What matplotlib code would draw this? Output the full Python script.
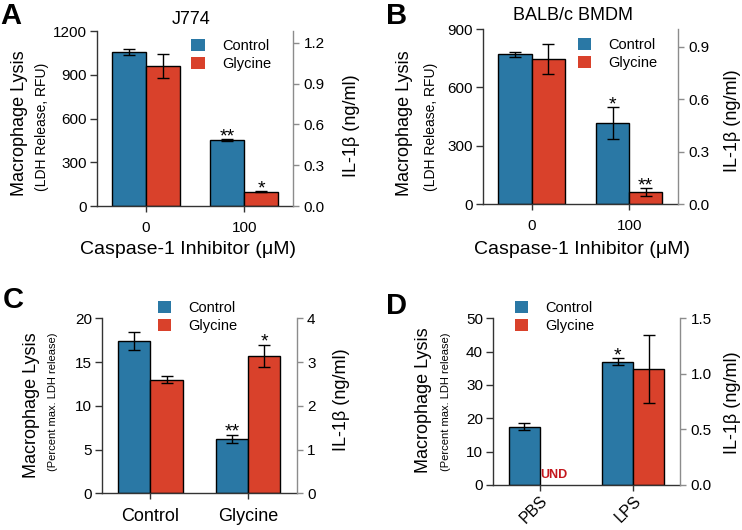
import matplotlib
matplotlib.use('Agg')
import matplotlib.pyplot as plt
from matplotlib.patches import Patch
import numpy as np

plt.rcParams['font.family'] = ['Liberation Sans', 'DejaVu Sans']

W, H = 742, 530
fig = plt.figure(figsize=(7.42, 5.30), dpi=100)

BLUE = '#2a78a5'
RED = '#d9412b'
RGRAY = '#8c8c8c'

# ---------------- data ----------------
series_names = ['Control', 'Glycine']

a_groups = ['0', '100']
a_control = [1055, 453]
a_control_err = [22, 5]
a_glycine = [960, 98]
a_glycine_err = [80, 4]
a_stars_control = ['', '**']
a_stars_glycine = ['', '*']

b_groups = ['0', '100']
b_control = [770, 415]
b_control_err = [13, 82]
b_glycine = [745, 60]
b_glycine_err = [76, 21]
b_stars_control = ['', '*']
b_stars_glycine = ['', '**']

c_groups = ['Control', 'Glycine']
c_control = [17.4, 6.2]
c_control_err = [1.05, 0.5]
c_glycine = [13.0, 15.7]
c_glycine_err = [0.42, 1.3]
c_stars_control = ['', '**']
c_stars_glycine = ['', '*']

d_groups = ['PBS', 'LPS']
d_control = [17.5, 37.0]
d_control_err = [1.0, 1.1]
d_glycine = [np.nan, 34.8]
d_glycine_err = [np.nan, 10.3]
d_stars_control = ['', '*']
d_stars_glycine = ['', '']


def px_axes(x0, y0, x1, y1):
    return fig.add_axes([x0 / W, 1 - y1 / H, (x1 - x0) / W, (y1 - y0) / H])


def panel(rect, groups, ctrl, ctrl_err, gly, gly_err, stars_c, stars_g,
          ylim, yticks, rlim, rticks, rlabels, width, legend_xy,
          xtick_size=11, rotate=False):
    ax = px_axes(*rect)
    x = np.arange(len(groups))
    ek = dict(ecolor='black', elinewidth=1.0, capsize=4.5, capthick=1.0)
    ax.bar(x - width / 2, ctrl, width, color=BLUE, edgecolor='black',
           linewidth=1.0, yerr=ctrl_err, error_kw=ek, zorder=2)
    ax.bar(x + width / 2, gly, width, color=RED, edgecolor='black',
           linewidth=1.0, yerr=gly_err, error_kw=ek, zorder=2)
    for xi, v, e, s in zip(x - width / 2, ctrl, ctrl_err, stars_c):
        if s:
            ax.annotate(s, (xi, v + e), xytext=(0, -1.5), textcoords='offset points',
                        ha='center', va='baseline', fontsize=14)
    for xi, v, e, s in zip(x + width / 2, gly, gly_err, stars_g):
        if s:
            ax.annotate(s, (xi, v + e), xytext=(0, -1.5), textcoords='offset points',
                        ha='center', va='baseline', fontsize=14)
    ax.set_xlim(-0.5, 1.5)
    ax.set_ylim(*ylim)
    ax.set_yticks(yticks)
    ax.set_xticks(x)
    if rotate:
        ax.set_xticklabels(groups, rotation=45, ha='right', va='top',
                           rotation_mode='anchor', fontsize=xtick_size)
        ax.tick_params(axis='x', length=4.5, width=1, color='#333333', pad=1)
    else:
        ax.set_xticklabels(groups, fontsize=xtick_size)
        ax.tick_params(axis='x', length=4.5, width=1, color='#333333', pad=6)
    ax.tick_params(axis='y', labelsize=11, length=5, width=1, color='#333333', pad=2)
    for sp in ['top', 'right']:
        ax.spines[sp].set_visible(False)
    for sp in ['left', 'bottom']:
        ax.spines[sp].set_color('#333333')
        ax.spines[sp].set_linewidth(1.0)
    ax.patch.set_alpha(0)

    ax2 = ax.twinx()
    ax2.set_ylim(*rlim)
    ax2.set_yticks(rticks)
    ax2.set_yticklabels(rlabels)
    ax2.tick_params(axis='y', labelsize=11, length=4.5, width=1, color=RGRAY, pad=3)
    for sp in ['top', 'left', 'bottom']:
        ax2.spines[sp].set_visible(False)
    ax2.spines['right'].set_color(RGRAY)
    ax2.spines['right'].set_linewidth(1.0)
    ax2.spines['right'].set_bounds(rlim[0], rlim[1])

    handles = [Patch(facecolor=BLUE, edgecolor='none'),
               Patch(facecolor=RED, edgecolor='none')]
    ax.legend(handles, series_names, loc='upper left',
              bbox_to_anchor=(legend_xy[0] / W, 1 - legend_xy[1] / H),
              bbox_transform=fig.transFigure, frameon=False, fontsize=10.5,
              handlelength=0.9, handleheight=0.9, handletextpad=1.2,
              labelspacing=0.25, borderpad=0, borderaxespad=0)
    return ax, ax2


def ftext(x, y, s, **kw):
    fig.text(x / W, 1 - y / H, s, **kw)


# Panel A
axA, _ = panel((96.7, 31, 293.3, 206), a_groups, a_control, a_control_err,
               a_glycine, a_glycine_err, a_stars_control, a_stars_glycine,
               (0, 1200), [0, 300, 600, 900, 1200],
               (0, 1.288), [0, 0.3, 0.6, 0.9, 1.2],
               ['0.0', '0.3', '0.6', '0.9', '1.2'], 0.345, (191.5, 39))
ftext(190.7, 20, 'J774', ha='center', va='center', fontsize=13)
ftext(188, 249, 'Caspase-1 Inhibitor (μM)', ha='center', va='center', fontsize=14)
ftext(20, 123, 'Macrophage Lysis', rotation=90, ha='center', va='center', fontsize=13)
ftext(42, 127, '(LDH Release, RFU)', rotation=90, ha='center', va='center', fontsize=10)
ftext(351, 126, 'IL-1β (ng/ml)', rotation=90, ha='center', va='center', fontsize=13)
ftext(0, 2, 'A', ha='left', va='top', fontsize=21, fontweight='bold')

# Panel B
axB, _ = panel((482.7, 29, 678, 204), b_groups, b_control, b_control_err,
               b_glycine, b_glycine_err, b_stars_control, b_stars_glycine,
               (0, 900), [0, 300, 600, 900],
               (0, 1.0), [0, 0.3, 0.6, 0.9],
               ['0.0', '0.3', '0.6', '0.9'], 0.34, (577.5, 38))
ftext(572.7, 15, 'BALB/c BMDM', ha='center', va='center', fontsize=13)
ftext(582, 249, 'Caspase-1 Inhibitor (μM)', ha='center', va='center', fontsize=14)
ftext(404, 123, 'Macrophage Lysis', rotation=90, ha='center', va='center', fontsize=13)
ftext(431, 127, '(LDH Release, RFU)', rotation=90, ha='center', va='center', fontsize=10)
ftext(732.7, 121, 'IL-1β (ng/ml)', rotation=90, ha='center', va='center', fontsize=13)
ftext(386, 2, 'B', ha='left', va='top', fontsize=21, fontweight='bold')

# Panel C
axC, _ = panel((101.7, 318.3, 296.7, 493.3), c_groups, c_control, c_control_err,
               c_glycine, c_glycine_err, c_stars_control, c_stars_glycine,
               (0, 20), [0, 5, 10, 15, 20],
               (0, 4), [0, 1, 2, 3, 4],
               ['0', '1', '2', '3', '4'], 0.33, (158, 301), xtick_size=13)
ftext(31.7, 405, 'Macrophage Lysis', rotation=90, ha='center', va='center', fontsize=13)
ftext(53, 402, '(Percent max. LDH release)', rotation=90, ha='center', va='center', fontsize=8)
ftext(341.7, 400, 'IL-1β (ng/ml)', rotation=90, ha='center', va='center', fontsize=13)
ftext(3, 286, 'C', ha='left', va='top', fontsize=21, fontweight='bold')

# Panel D
axD, _ = panel((492.7, 318.3, 680.3, 485), d_groups, d_control, d_control_err,
               d_glycine, d_glycine_err, d_stars_control, d_stars_glycine,
               (0, 50), [0, 10, 20, 30, 40, 50],
               (0, 1.5), [0, 0.5, 1.0, 1.5],
               ['0.0', '0.5', '1.0', '1.5'], 0.33, (515, 301), xtick_size=11.5,
               rotate=True)
axD.annotate('UND', (0 + 0.33 / 2, 0), xytext=(-11, 3), textcoords='offset points',
             ha='left', va='bottom', fontsize=9, fontweight='bold', color='#c4161c')
ftext(424, 400, 'Macrophage Lysis', rotation=90, ha='center', va='center', fontsize=13)
ftext(446, 402, '(Percent max. LDH release)', rotation=90, ha='center', va='center', fontsize=8)
ftext(732.7, 403, 'IL-1β (ng/ml)', rotation=90, ha='center', va='center', fontsize=13)
ftext(386, 292, 'D', ha='left', va='top', fontsize=21, fontweight='bold')

fig.savefig('out.png', dpi=100)
